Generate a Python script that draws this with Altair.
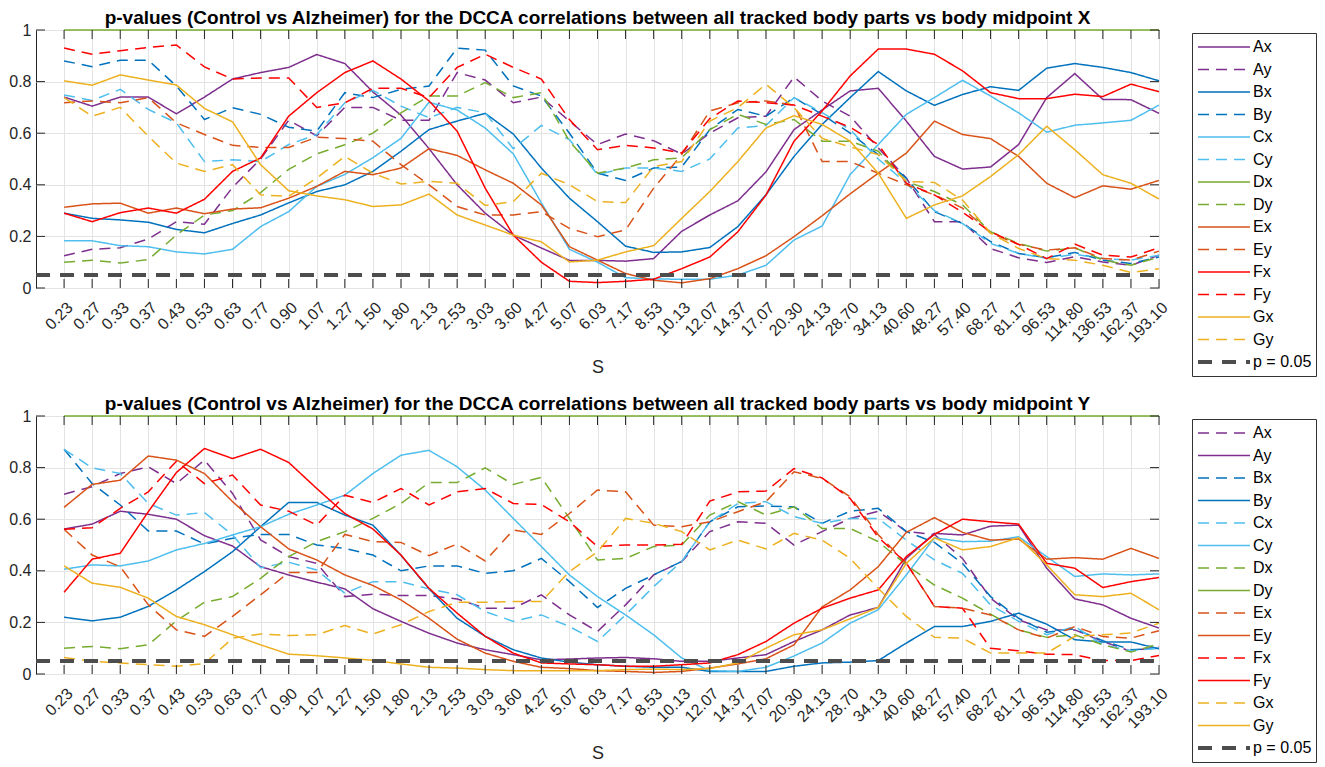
import json
import altair as alt
import pandas as pd

FONT = "Liberation Sans"

# ---- categories (scale S) ----
S_LABELS = ["0.23", "0.27", "0.33", "0.37", "0.43", "0.53", "0.63", "0.77", "0.90", "1.07",
            "1.27", "1.50", "1.80", "2.13", "2.53", "3.03", "3.60", "4.27", "5.07", "6.03",
            "7.17", "8.53", "10.13", "12.07", "14.37", "17.07", "20.30", "24.13", "28.70", "34.13",
            "40.60", "48.27", "57.40", "68.27", "81.17", "96.53", "114.80", "136.53", "162.37", "193.10"]
IDX = list(range(len(S_LABELS)))
Y_TICKS = [0, 0.2, 0.4, 0.6, 0.8, 1]
P_THRESHOLD = 0.05
P_LABEL = "p = 0.05"
THR_X = [-1, 39]

SERIES = ["Ax", "Ay", "Bx", "By", "Cx", "Cy", "Dx", "Dy", "Ex", "Ey", "Fx", "Fy", "Gx", "Gy"]
PART_COLORS = {"A": "#7E2F8E", "B": "#0072BD", "C": "#4DBEEE", "D": "#77AC30",
               "E": "#D95319", "F": "#FF0000", "G": "#EDB120"}

# ---- panel 1: vs body midpoint X ----
Ax_t = [0.74, 0.705, 0.74, 0.74, 0.675, 0.74, 0.81, 0.835, 0.855, 0.905, 0.87, 0.76, 0.67, 0.54, 0.40, 0.29, 0.205, 0.155, 0.107, 0.107, 0.104, 0.114, 0.22, 0.283, 0.338, 0.45, 0.614, 0.69, 0.764, 0.774, 0.647, 0.51, 0.461, 0.469, 0.556, 0.738, 0.831, 0.731, 0.73, 0.677]
Ay_t = [0.125, 0.15, 0.156, 0.19, 0.257, 0.247, 0.39, 0.50, 0.65, 0.59, 0.70, 0.70, 0.65, 0.65, 0.835, 0.806, 0.718, 0.74, 0.647, 0.556, 0.597, 0.571, 0.519, 0.60, 0.66, 0.666, 0.818, 0.725, 0.666, 0.543, 0.426, 0.257, 0.257, 0.153, 0.117, 0.099, 0.121, 0.101, 0.088, 0.127]
Bx_t = [0.29, 0.27, 0.264, 0.255, 0.227, 0.214, 0.25, 0.283, 0.33, 0.374, 0.40, 0.452, 0.53, 0.614, 0.647, 0.677, 0.597, 0.465, 0.348, 0.257, 0.162, 0.138, 0.14, 0.157, 0.238, 0.361, 0.51, 0.634, 0.738, 0.839, 0.764, 0.708, 0.75, 0.78, 0.766, 0.852, 0.87, 0.855, 0.835, 0.803]
By_t = [0.88, 0.858, 0.883, 0.883, 0.783, 0.653, 0.699, 0.673, 0.623, 0.608, 0.757, 0.738, 0.77, 0.783, 0.93, 0.922, 0.783, 0.744, 0.60, 0.445, 0.417, 0.465, 0.469, 0.614, 0.692, 0.666, 0.738, 0.673, 0.60, 0.517, 0.426, 0.296, 0.25, 0.18, 0.134, 0.117, 0.138, 0.108, 0.095, 0.12]
Cx_t = [0.183, 0.183, 0.164, 0.16, 0.14, 0.132, 0.15, 0.238, 0.296, 0.394, 0.44, 0.505, 0.58, 0.72, 0.69, 0.62, 0.52, 0.33, 0.15, 0.10, 0.04, 0.035, 0.034, 0.034, 0.05, 0.088, 0.186, 0.24, 0.44, 0.556, 0.673, 0.738, 0.805, 0.744, 0.679, 0.604, 0.631, 0.64, 0.65, 0.709]
Cy_t = [0.748, 0.727, 0.77, 0.692, 0.64, 0.49, 0.497, 0.49, 0.556, 0.595, 0.718, 0.766, 0.705, 0.66, 0.70, 0.679, 0.54, 0.63, 0.575, 0.44, 0.465, 0.465, 0.452, 0.50, 0.62, 0.63, 0.738, 0.68, 0.614, 0.50, 0.406, 0.30, 0.25, 0.173, 0.134, 0.114, 0.131, 0.114, 0.108, 0.127]
Dx_t = [1.0, 1.0, 1.0, 1.0, 1.0, 1.0, 1.0, 1.0, 1.0, 1.0, 1.0, 1.0, 1.0, 1.0, 1.0, 1.0, 1.0, 1.0, 1.0, 1.0, 1.0, 1.0, 1.0, 1.0, 1.0, 1.0, 1.0, 1.0, 1.0, 1.0, 1.0, 1.0, 1.0, 1.0, 1.0, 1.0, 1.0, 1.0, 1.0, 1.0]
Dy_t = [0.10, 0.108, 0.097, 0.11, 0.205, 0.283, 0.30, 0.37, 0.46, 0.52, 0.555, 0.60, 0.679, 0.744, 0.744, 0.796, 0.738, 0.757, 0.569, 0.445, 0.465, 0.497, 0.504, 0.614, 0.673, 0.634, 0.653, 0.569, 0.569, 0.53, 0.413, 0.374, 0.322, 0.218, 0.173, 0.143, 0.156, 0.108, 0.088, 0.12]
Ex_t = [0.313, 0.326, 0.329, 0.29, 0.31, 0.288, 0.306, 0.311, 0.348, 0.394, 0.452, 0.439, 0.465, 0.54, 0.514, 0.458, 0.406, 0.322, 0.16, 0.108, 0.056, 0.03, 0.02, 0.036, 0.075, 0.125, 0.199, 0.28, 0.365, 0.445, 0.523, 0.647, 0.595, 0.579, 0.51, 0.406, 0.35, 0.396, 0.383, 0.417]
Ey_t = [0.718, 0.725, 0.718, 0.738, 0.64, 0.595, 0.553, 0.545, 0.545, 0.584, 0.579, 0.569, 0.478, 0.40, 0.316, 0.283, 0.283, 0.296, 0.231, 0.199, 0.225, 0.387, 0.517, 0.686, 0.718, 0.725, 0.709, 0.49, 0.49, 0.445, 0.40, 0.361, 0.31, 0.213, 0.169, 0.147, 0.156, 0.114, 0.108, 0.143]
Fx_t = [0.29, 0.257, 0.292, 0.31, 0.29, 0.344, 0.452, 0.504, 0.666, 0.757, 0.835, 0.88, 0.81, 0.725, 0.608, 0.387, 0.205, 0.10, 0.026, 0.021, 0.026, 0.034, 0.075, 0.12, 0.218, 0.36, 0.569, 0.686, 0.822, 0.926, 0.926, 0.906, 0.842, 0.757, 0.734, 0.734, 0.751, 0.742, 0.79, 0.761]
Fy_t = [0.93, 0.906, 0.92, 0.932, 0.942, 0.857, 0.81, 0.814, 0.814, 0.70, 0.718, 0.774, 0.774, 0.738, 0.855, 0.906, 0.855, 0.81, 0.653, 0.536, 0.553, 0.543, 0.523, 0.657, 0.725, 0.718, 0.709, 0.666, 0.623, 0.556, 0.406, 0.361, 0.294, 0.218, 0.169, 0.114, 0.17, 0.127, 0.12, 0.156]
Gx_t = [0.803, 0.786, 0.826, 0.806, 0.787, 0.696, 0.644, 0.478, 0.377, 0.357, 0.342, 0.316, 0.322, 0.364, 0.283, 0.244, 0.205, 0.179, 0.101, 0.108, 0.14, 0.164, 0.27, 0.374, 0.49, 0.62, 0.668, 0.634, 0.569, 0.445, 0.27, 0.322, 0.357, 0.432, 0.517, 0.627, 0.536, 0.439, 0.406, 0.345]
Gy_t = [0.738, 0.666, 0.70, 0.588, 0.484, 0.452, 0.478, 0.361, 0.355, 0.426, 0.51, 0.445, 0.403, 0.413, 0.406, 0.32, 0.335, 0.445, 0.40, 0.335, 0.331, 0.471, 0.49, 0.647, 0.699, 0.79, 0.699, 0.58, 0.547, 0.517, 0.413, 0.409, 0.341, 0.213, 0.153, 0.114, 0.108, 0.088, 0.06, 0.075]

# ---- panel 2: vs body midpoint Y ----
Ax_b = [0.697, 0.726, 0.777, 0.803, 0.738, 0.829, 0.70, 0.52, 0.455, 0.429, 0.30, 0.309, 0.304, 0.304, 0.291, 0.255, 0.255, 0.307, 0.229, 0.165, 0.268, 0.384, 0.436, 0.552, 0.59, 0.584, 0.50, 0.552, 0.603, 0.631, 0.552, 0.541, 0.448, 0.294, 0.21, 0.171, 0.171, 0.126, 0.088, 0.107]
Ay_b = [0.562, 0.581, 0.631, 0.619, 0.60, 0.536, 0.496, 0.416, 0.384, 0.356, 0.33, 0.253, 0.204, 0.158, 0.12, 0.094, 0.075, 0.055, 0.058, 0.062, 0.064, 0.059, 0.049, 0.049, 0.062, 0.075, 0.126, 0.171, 0.229, 0.258, 0.448, 0.545, 0.539, 0.573, 0.577, 0.41, 0.291, 0.268, 0.216, 0.178]
Bx_b = [0.871, 0.738, 0.655, 0.554, 0.554, 0.504, 0.526, 0.541, 0.541, 0.50, 0.487, 0.461, 0.40, 0.419, 0.419, 0.39, 0.40, 0.448, 0.358, 0.258, 0.332, 0.384, 0.436, 0.59, 0.648, 0.651, 0.648, 0.584, 0.631, 0.642, 0.552, 0.51, 0.429, 0.30, 0.216, 0.162, 0.175, 0.129, 0.094, 0.10]
By_b = [0.22, 0.206, 0.22, 0.262, 0.326, 0.397, 0.474, 0.571, 0.665, 0.665, 0.616, 0.577, 0.46, 0.33, 0.216, 0.146, 0.094, 0.062, 0.046, 0.036, 0.03, 0.026, 0.026, 0.01, 0.01, 0.01, 0.03, 0.043, 0.046, 0.052, 0.12, 0.184, 0.184, 0.204, 0.236, 0.193, 0.133, 0.124, 0.124, 0.098]
Cx_b = [0.871, 0.799, 0.777, 0.661, 0.616, 0.626, 0.539, 0.412, 0.433, 0.403, 0.313, 0.358, 0.358, 0.33, 0.307, 0.242, 0.204, 0.229, 0.184, 0.126, 0.229, 0.339, 0.436, 0.59, 0.661, 0.668, 0.61, 0.584, 0.603, 0.603, 0.519, 0.442, 0.39, 0.268, 0.204, 0.152, 0.184, 0.113, 0.09, 0.10]
Cy_b = [0.406, 0.423, 0.419, 0.438, 0.481, 0.506, 0.539, 0.571, 0.619, 0.655, 0.693, 0.777, 0.848, 0.867, 0.803, 0.713, 0.603, 0.494, 0.384, 0.30, 0.229, 0.152, 0.062, 0.013, 0.01, 0.026, 0.07, 0.12, 0.197, 0.249, 0.384, 0.528, 0.513, 0.515, 0.532, 0.455, 0.378, 0.388, 0.384, 0.388]
Dx_b = [0.10, 0.107, 0.098, 0.113, 0.206, 0.278, 0.30, 0.371, 0.455, 0.513, 0.552, 0.603, 0.661, 0.742, 0.742, 0.799, 0.735, 0.762, 0.603, 0.442, 0.448, 0.494, 0.50, 0.616, 0.668, 0.616, 0.648, 0.564, 0.564, 0.513, 0.423, 0.345, 0.294, 0.232, 0.171, 0.142, 0.152, 0.113, 0.085, 0.117]
Dy_b = [1.0, 1.0, 1.0, 1.0, 1.0, 1.0, 1.0, 1.0, 1.0, 1.0, 1.0, 1.0, 1.0, 1.0, 1.0, 1.0, 1.0, 1.0, 1.0, 1.0, 1.0, 1.0, 1.0, 1.0, 1.0, 1.0, 1.0, 1.0, 1.0, 1.0, 1.0, 1.0, 1.0, 1.0, 1.0, 1.0, 1.0, 1.0, 1.0, 1.0]
Ex_b = [0.561, 0.461, 0.416, 0.268, 0.171, 0.146, 0.223, 0.307, 0.393, 0.393, 0.541, 0.513, 0.51, 0.459, 0.504, 0.438, 0.558, 0.541, 0.622, 0.713, 0.706, 0.577, 0.571, 0.59, 0.629, 0.668, 0.784, 0.758, 0.687, 0.54, 0.43, 0.262, 0.255, 0.229, 0.171, 0.139, 0.184, 0.145, 0.139, 0.168]
Ey_b = [0.646, 0.735, 0.751, 0.845, 0.829, 0.777, 0.668, 0.571, 0.485, 0.442, 0.384, 0.343, 0.287, 0.216, 0.135, 0.081, 0.049, 0.026, 0.021, 0.013, 0.01, 0.006, 0.01, 0.023, 0.039, 0.059, 0.113, 0.26, 0.326, 0.416, 0.549, 0.606, 0.549, 0.519, 0.523, 0.445, 0.451, 0.445, 0.487, 0.448]
Fx_b = [0.561, 0.567, 0.642, 0.706, 0.825, 0.738, 0.771, 0.655, 0.631, 0.577, 0.693, 0.665, 0.719, 0.655, 0.706, 0.719, 0.661, 0.657, 0.59, 0.494, 0.50, 0.50, 0.503, 0.67, 0.706, 0.709, 0.796, 0.76, 0.68, 0.53, 0.43, 0.262, 0.255, 0.10, 0.09, 0.077, 0.075, 0.052, 0.052, 0.072]
Fy_b = [0.317, 0.445, 0.468, 0.629, 0.781, 0.874, 0.835, 0.871, 0.82, 0.719, 0.622, 0.562, 0.461, 0.332, 0.236, 0.146, 0.081, 0.043, 0.039, 0.036, 0.03, 0.03, 0.036, 0.043, 0.075, 0.126, 0.197, 0.255, 0.294, 0.326, 0.455, 0.541, 0.60, 0.59, 0.581, 0.429, 0.41, 0.335, 0.358, 0.374]
Gx_b = [0.064, 0.049, 0.043, 0.036, 0.03, 0.04, 0.139, 0.155, 0.149, 0.152, 0.188, 0.155, 0.191, 0.242, 0.278, 0.278, 0.281, 0.281, 0.397, 0.474, 0.603, 0.584, 0.552, 0.481, 0.519, 0.485, 0.545, 0.519, 0.448, 0.332, 0.223, 0.142, 0.139, 0.081, 0.081, 0.081, 0.146, 0.152, 0.159, 0.197]
Gy_b = [0.419, 0.352, 0.336, 0.294, 0.223, 0.191, 0.152, 0.113, 0.077, 0.071, 0.062, 0.053, 0.039, 0.026, 0.023, 0.017, 0.013, 0.013, 0.013, 0.013, 0.017, 0.019, 0.017, 0.021, 0.043, 0.10, 0.152, 0.171, 0.214, 0.258, 0.429, 0.528, 0.481, 0.494, 0.528, 0.423, 0.307, 0.30, 0.313, 0.249]

TOP = dict(Ax=Ax_t, Ay=Ay_t, Bx=Bx_t, By=By_t, Cx=Cx_t, Cy=Cy_t, Dx=Dx_t, Dy=Dy_t,
           Ex=Ex_t, Ey=Ey_t, Fx=Fx_t, Fy=Fy_t, Gx=Gx_t, Gy=Gy_t)
BOT = dict(Ax=Ax_b, Ay=Ay_b, Bx=Bx_b, By=By_b, Cx=Cx_b, Cy=Cy_b, Dx=Dx_b, Dy=Dy_b,
           Ex=Ex_b, Ey=Ey_b, Fx=Fx_b, Fy=Fy_b, Gx=Gx_b, Gy=Gy_b)

TITLE_TOP = "p-values (Control vs Alzheimer) for the DCCA correlations between all tracked body parts vs body midpoint X"
TITLE_BOT = "p-values (Control vs Alzheimer) for the DCCA correlations between all tracked body parts vs body midpoint Y"

W, H = 1123, 258
TICK_LEN = 9
DASH = [11, 7]
SOLID = [1, 0]


def make_panel(values, dashed_suffix, title_text):
    rows = []
    for name in SERIES:
        for i, v in zip(IDX, values[name]):
            rows.append({"idx": i, "value": v, "series": name})
    df = pd.DataFrame(rows)
    thr = pd.DataFrame({"idx": THR_X, "value": [P_THRESHOLD, P_THRESHOLD],
                        "series": [P_LABEL, P_LABEL]})

    dom = SERIES + [P_LABEL]
    cols = [PART_COLORS[n[0]] for n in SERIES] + ["#4D4D4D"]
    dashes = [DASH if n[1] == dashed_suffix else SOLID for n in SERIES] + [[14, 10]]
    widths = [1.5] * len(SERIES) + [4]

    legend = alt.Legend(orient="none", legendX=W + 33, legendY=3, title=None,
                        symbolType="stroke", symbolSize=2704, clipHeight=20,
                        rowPadding=2.5, padding=4, labelFontSize=16, labelFont=FONT,
                        labelColor="black", labelOffset=1, strokeColor="#333333",
                        fillColor="white", labelLimit=200)

    label_expr = json.dumps(S_LABELS) + "[datum.value]"
    x_enc = alt.X("idx:Q",
                  scale=alt.Scale(domain=[-1, 39], nice=False, zero=False),
                  axis=alt.Axis(values=IDX, labelExpr=label_expr, labelAngle=315,
                                labelAlign="right", labelBaseline="top", labelPadding=11,
                                labelFontSize=16, labelOverlap=False, labelFlush=False,
                                labelBound=False, title="S", titleFontSize=18,
                                titleFontWeight="normal", titlePadding=14, grid=True))
    y_enc = alt.Y("value:Q",
                  scale=alt.Scale(domain=[0, 1], nice=False, zero=True),
                  axis=alt.Axis(values=Y_TICKS, format="~g", labelFontSize=16,
                                labelPadding=5, title=None, grid=True))
    color = alt.Color("series:N", scale=alt.Scale(domain=dom, range=cols), legend=legend)
    dash = alt.StrokeDash("series:N", scale=alt.Scale(domain=dom, range=dashes), legend=legend)
    sw = alt.StrokeWidth("series:N", scale=alt.Scale(type="ordinal", domain=dom, range=widths),
                         legend=legend)

    lines = alt.Chart(df).mark_line().encode(x=x_enc, y=y_enc, color=color,
                                             strokeDash=dash, strokeWidth=sw,
                                             detail="series:N")
    pline = alt.Chart(thr).mark_line().encode(x=x_enc, y=y_enc, color=color,
                                              strokeDash=dash, strokeWidth=sw)

    tick_df = pd.DataFrame({"idx": IDX})
    ytick_df = pd.DataFrame({"value": Y_TICKS})
    tick_style = dict(color="#262626", strokeWidth=1)
    xb = alt.Chart(tick_df).mark_rule(**tick_style).encode(
        x=x_enc, y=alt.value(H), y2=alt.value(H - TICK_LEN))
    xt = alt.Chart(tick_df).mark_rule(**tick_style).encode(
        x=x_enc, y=alt.value(0), y2=alt.value(TICK_LEN))
    yl = alt.Chart(ytick_df).mark_rule(**tick_style).encode(
        y=y_enc, x=alt.value(0), x2=alt.value(TICK_LEN))
    yr = alt.Chart(ytick_df).mark_rule(**tick_style).encode(
        y=y_enc, x=alt.value(W - TICK_LEN), x2=alt.value(W))

    return alt.layer(lines, pline, xb, xt, yl, yr).properties(
        width=W, height=H,
        title=alt.TitleParams(text=title_text, fontSize=19, fontWeight="bold", font=FONT,
                              color="black", frame="group", anchor="middle", offset=-6))


top = make_panel(TOP, "y", TITLE_TOP)
bottom = make_panel(BOT, "x", TITLE_BOT)

chart = alt.vconcat(top, bottom, spacing=16,
                    padding={"left": 0, "top": 0, "right": 0, "bottom": 0}).resolve_scale(
    color="independent", strokeDash="independent", strokeWidth="independent"
).resolve_legend(
    color="independent", strokeDash="independent", strokeWidth="independent"
).configure_view(
    stroke="#262626", strokeWidth=1
).configure_axis(
    labelFont=FONT, titleFont=FONT, labelColor="#262626", titleColor="#262626",
    domain=False, ticks=False, gridColor="#E3E3E3", gridWidth=1, gridOpacity=1
)

chart.save("out.html", embed_options={"renderer": "svg", "actions": False})
